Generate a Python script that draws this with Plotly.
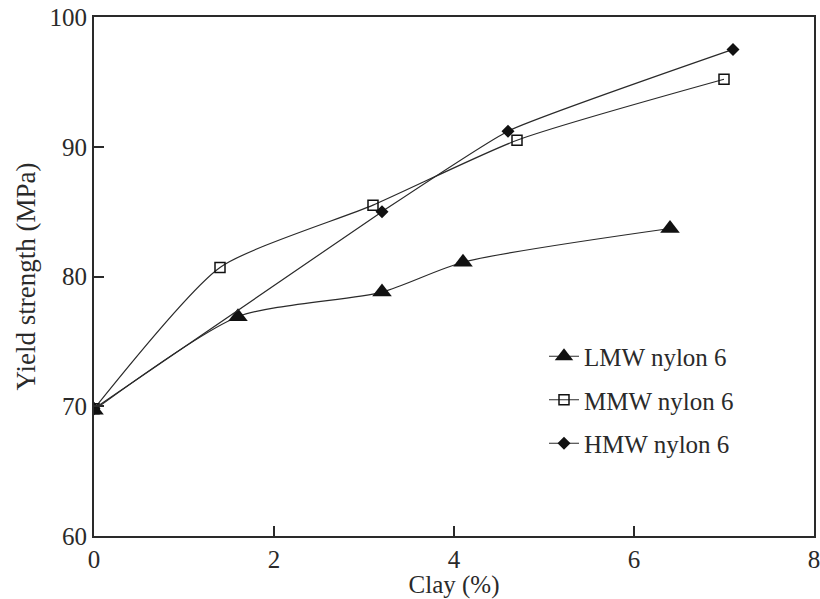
import plotly.graph_objects as go

clay_lmw = [0, 1.6, 3.2, 4.1, 6.4]
ys_lmw = [69.7, 76.9, 78.8, 81.1, 83.7]
clay_mmw = [0, 1.4, 3.1, 4.7, 7.0]
ys_mmw = [69.8, 80.7, 85.5, 90.5, 95.2]
clay_hmw = [0, 3.2, 4.6, 7.1]
ys_hmw = [69.8, 85.0, 91.2, 97.5]

names = ["LMW nylon 6", "MMW nylon 6", "HMW nylon 6"]
FONT = "Liberation Serif, Times New Roman, serif"
INK = "#2a2a2a"

fig = go.Figure()
fig.add_trace(go.Scatter(x=clay_lmw, y=ys_lmw, name=names[0], mode="lines+markers",
                         line=dict(color=INK, width=1.2, shape="spline", smoothing=0.7),
                         marker=dict(symbol="triangle-up", size=17, color="#111"),
                         legendgroup="a"))
fig.add_trace(go.Scatter(x=clay_mmw, y=ys_mmw, name=names[1], mode="lines+markers",
                         line=dict(color=INK, width=1.2, shape="spline", smoothing=0.6),
                         marker=dict(symbol="square-open", size=10, color="#111", line=dict(width=1.5)),
                         legendgroup="b"))
fig.add_trace(go.Scatter(x=clay_hmw, y=ys_hmw, name=names[2], mode="lines+markers",
                         line=dict(color=INK, width=1.2, shape="spline", smoothing=0.4),
                         marker=dict(symbol="diamond", size=10, color="#111"),
                         legendgroup="c"))

fig.update_layout(
    width=820, height=599,
    margin=dict(l=94, r=6, t=17, b=63),
    paper_bgcolor="white", plot_bgcolor="white",
    font=dict(family=FONT, size=25, color=INK),
    showlegend=True,
    legend=dict(x=0.625, y=0.262, xanchor="left", yanchor="middle",
                bgcolor="rgba(0,0,0,0)", font=dict(size=25, family=FONT, color=INK),
                tracegroupgap=8),
    xaxis=dict(range=[0, 8], tickvals=[0, 2, 4, 6, 8], ticks="inside", ticklen=10,
               tickcolor=INK, tickwidth=1.5, ticklabeloverflow="allow",
               showline=True, linecolor=INK, linewidth=1.8, mirror=True,
               showgrid=False, zeroline=False, automargin=False,
               tickfont=dict(size=25),
               title=dict(text="Clay (%)", standoff=0, font=dict(size=25))),
    yaxis=dict(range=[60, 100], tickvals=[60, 70, 80, 90, 100], ticks="inside", ticklen=10,
               tickcolor=INK, tickwidth=1.5, ticklabeloverflow="allow",
               showline=True, linecolor=INK, linewidth=1.8, mirror=True,
               showgrid=False, zeroline=False, automargin=False,
               tickfont=dict(size=25),
               title=dict(text="Yield strength (MPa)", standoff=6, font=dict(size=27))),
)

fig.write_html("out.html", config={"displayModeBar": False},
               post_script="document.body.style.margin='0';")
